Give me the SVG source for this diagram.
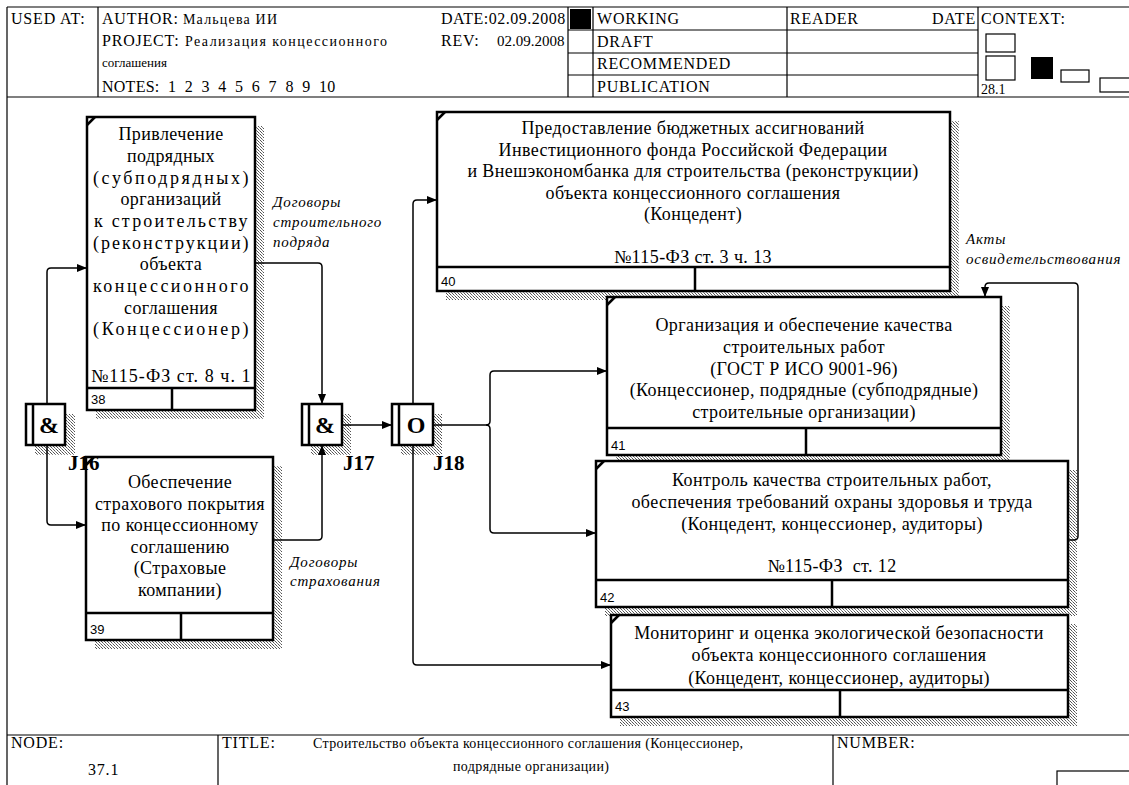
<svg xmlns="http://www.w3.org/2000/svg" width="1129" height="785" viewBox="0 0 1129 785">
<defs>
<pattern id="hatch" width="3" height="3" patternUnits="userSpaceOnUse">
<rect width="3" height="3" fill="#fff"/>
<rect x="0" y="0" width="1" height="1" fill="#555"/>
<rect x="1" y="1" width="1" height="1" fill="#888"/>
<rect x="2" y="2" width="1" height="1" fill="#555"/>
</pattern>
<marker id="arr" markerWidth="10" markerHeight="8" refX="10" refY="4" orient="auto" markerUnits="userSpaceOnUse">
<path d="M0,0 L10,4 L0,8 z" fill="#000"/>
</marker>
</defs>
<style>
.frame{stroke:#000;stroke-width:1.2;fill:none}
.hdr{font-family:"Liberation Serif",serif;font-size:16px;letter-spacing:0.8px;fill:#000}
.hdrs{font-family:"Liberation Serif",serif;font-size:14px;fill:#000}
.box{fill:#fff;stroke:#000;stroke-width:2.5}
.ln{stroke:#000;stroke-width:2.5}
.sh{fill:url(#hatch)}
.t{font-family:"Liberation Serif",serif;font-size:18px;letter-spacing:0.4px;fill:#000;text-anchor:middle}
.num{font-family:"Liberation Sans",sans-serif;font-size:13px;fill:#000}
.lab{font-family:"Liberation Serif",serif;font-size:15px;letter-spacing:0.8px;font-style:italic;fill:#000}
.jt{font-family:"Liberation Serif",serif;font-size:24px;font-weight:bold;fill:#000;text-anchor:middle}
.jl{font-family:"Liberation Serif",serif;font-size:21px;font-weight:bold;fill:#000}
.c{fill:none;stroke:#000;stroke-width:1.5}
</style>
<rect width="1129" height="785" fill="#fff"/>

<g id="frame">
<path class="frame" d="M7,7 H1129 M7,7 V785 M7,97 H1129 M98,7 V97 M568,7 V97 M593,7 V97 M787,7 V97 M978,7 V97 M568,30 H978 M568,53 H978 M568,75 H978 M7,735 H1129 M218,735 V785 M833,735 V785"/>
<rect x="570" y="9" width="21" height="20" fill="#000"/>
<text class="hdr" x="11" y="24">USED AT:</text>
<text class="hdr" x="102" y="24">AUTHOR:</text>
<text class="hdrs" x="183" y="24" textLength="94" lengthAdjust="spacing">Мальцева ИИ</text>
<text class="hdr" x="102" y="46">PROJECT:</text>
<text class="hdrs" x="185" y="46" textLength="202" lengthAdjust="spacing">Реализация концессионного</text>
<text class="hdrs" x="102" y="67" style="font-size:13px" textLength="65" lengthAdjust="spacing">соглашения</text>
<text class="hdr" x="102" y="92" xml:space="preserve" textLength="234" lengthAdjust="spacing">NOTES:  1  2  3  4  5  6  7  8  9  10</text>
<text class="hdr" x="441" y="24" textLength="125" lengthAdjust="spacing">DATE:02.09.2008</text>
<text class="hdr" x="441" y="46">REV:</text>
<text class="hdr" x="497" y="46" style="font-size:15px;letter-spacing:0">02.09.2008</text>
<text class="hdr" x="597" y="24">WORKING</text>
<text class="hdr" x="597" y="47">DRAFT</text>
<text class="hdr" x="597" y="69">RECOMMENDED</text>
<text class="hdr" x="597" y="92">PUBLICATION</text>
<text class="hdr" x="790" y="24">READER</text>
<text class="hdr" x="976" y="24" text-anchor="end">DATE</text>
<text class="hdr" x="981" y="24">CONTEXT:</text>
<rect x="986" y="34" width="29" height="18" class="frame"/>
<rect x="986" y="56" width="29" height="24" class="frame"/>
<rect x="1031" y="57" width="22" height="22" fill="#000"/>
<rect x="1061" y="70" width="28" height="12" class="frame"/>
<rect x="1100" y="78" width="30" height="14" class="frame"/>
<text class="hdrs" x="981" y="94">28.1</text>
<text class="hdr" x="11" y="748">NODE:</text>
<text class="hdr" x="88" y="775">37.1</text>
<text class="hdr" x="222" y="748">TITLE:</text>
<text class="hdrs" x="313" y="748" textLength="430" lengthAdjust="spacing">Строительство объекта концессионного соглашения (Концессионер,</text>
<text class="hdrs" x="453" y="771" textLength="156" lengthAdjust="spacing">подрядные организации)</text>
<text class="hdr" x="837" y="748">NUMBER:</text>
<rect x="1057" y="771" width="80" height="20" class="frame"/>
</g>

<g id="shadows">
<rect class="sh" x="96" y="126" width="168" height="293"/>
<rect class="sh" x="95" y="466" width="187" height="183"/>
<rect class="sh" x="446" y="121" width="513" height="179"/>
<rect class="sh" x="616" y="306" width="394" height="158"/>
<rect class="sh" x="605" y="470" width="472" height="146"/>
<rect class="sh" x="620" y="624" width="457" height="102"/>
<rect class="sh" x="35" y="414" width="40" height="41"/>
<rect class="sh" x="311" y="414" width="40" height="41"/>
<rect class="sh" x="401" y="414" width="41" height="41"/>
</g>

<g id="connectors">
<path class="c" marker-end="url(#arr)" d="M47,404 V272 Q47,268 51,268 H87"/>
<path class="c" marker-end="url(#arr)" d="M47,445 V521 Q47,525 51,525 H86"/>
<path class="c" marker-end="url(#arr)" d="M255,263 H318 Q322,263 322,267 V404"/>
<path class="c" marker-end="url(#arr)" d="M273,540 H318 Q322,540 322,536 V445"/>
<path class="c" marker-end="url(#arr)" d="M342,425 H392"/>
<path class="c" marker-end="url(#arr)" d="M413,404 V204 Q413,200 417,200 H437"/>
<path class="c" marker-end="url(#arr)" d="M433,425 H486 Q490,425 490,421 V375 Q490,371 494,371 H607"/>
<path class="c" marker-end="url(#arr)" d="M486,425 Q490,425 490,429 V529 Q490,533 494,533 H596"/>
<path class="c" marker-end="url(#arr)" d="M413,445 V661 Q413,665 417,665 H611"/>
<path class="c" marker-end="url(#arr)" d="M1068,540 H1074 Q1078,540 1078,536 V287 Q1078,283 1074,283 H989 Q985,283 985,287 V297"/>
<text class="lab" x="273" y="207">Договоры</text>
<text class="lab" x="273" y="227">строительного</text>
<text class="lab" x="273" y="247">подряда</text>
<text class="lab" x="290" y="567">Договоры</text>
<text class="lab" x="290" y="586">страхования</text>
<text class="lab" x="966" y="244">Акты</text>
<text class="lab" x="966" y="264">освидетельствования</text>
</g>

<g id="node38">
<rect class="box" x="87" y="117" width="168" height="293"/>
<path class="ln" d="M87,388 H255 M172,388 V410 M87,125 L95,117"/>
<text class="t" x="171" y="140">Привлечение</text>
<text class="t" x="171" y="162">подрядных</text>
<text class="t" x="171" y="184" textLength="156" lengthAdjust="spacing">(субподрядных)</text>
<text class="t" x="171" y="205">организаций</text>
<text class="t" x="171" y="227" textLength="154" lengthAdjust="spacing">к строительству</text>
<text class="t" x="171" y="249" textLength="156" lengthAdjust="spacing">(реконструкции)</text>
<text class="t" x="171" y="270">объекта</text>
<text class="t" x="171" y="292" textLength="156" lengthAdjust="spacing">концессионного</text>
<text class="t" x="171" y="314">соглашения</text>
<text class="t" x="171" y="335" textLength="156" lengthAdjust="spacing">(Концессионер)</text>
<text class="t" x="171" y="382" textLength="160" lengthAdjust="spacing">№115-ФЗ ст. 8 ч. 1</text>
<text class="num" x="91" y="404">38</text>
</g>

<g id="node39">
<rect class="box" x="86" y="457" width="187" height="183"/>
<path class="ln" d="M86,613 H273 M181,613 V640 M86,465 L94,457"/>
<text class="t" x="180" y="488">Обеспечение</text>
<text class="t" x="180" y="510">страхового покрытия</text>
<text class="t" x="180" y="531">по концессионному</text>
<text class="t" x="180" y="553">соглашению</text>
<text class="t" x="180" y="574">(Страховые</text>
<text class="t" x="180" y="596">компании)</text>
<text class="num" x="90" y="634">39</text>
</g>

<g id="node40">
<rect class="box" x="437" y="112" width="513" height="179"/>
<path class="ln" d="M437,267 H950 M695,267 V291 M437,120 L445,112"/>
<text class="t" x="693" y="134">Предоставление бюджетных ассигнований</text>
<text class="t" x="693" y="156">Инвестиционного фонда Российской Федерации</text>
<text class="t" x="693" y="177">и Внешэкономбанка для строительства (реконструкции)</text>
<text class="t" x="693" y="199">объекта концессионного соглашения</text>
<text class="t" x="693" y="220">(Концедент)</text>
<text class="t" x="693" y="263">№115-ФЗ ст. 3 ч. 13</text>
<text class="num" x="441" y="286">40</text>
</g>

<g id="node41">
<rect class="box" x="607" y="297" width="394" height="158"/>
<path class="ln" d="M607,428 H1001 M806,428 V455 M607,305 L615,297"/>
<text class="t" x="804" y="331">Организация и обеспечение качества</text>
<text class="t" x="804" y="353">строительных работ</text>
<text class="t" x="804" y="375">(ГОСТ Р ИСО 9001-96)</text>
<text class="t" x="804" y="396">(Концессионер, подрядные (субподрядные)</text>
<text class="t" x="804" y="418">строительные организации)</text>
<text class="num" x="611" y="450">41</text>
</g>

<g id="node42">
<rect class="box" x="596" y="461" width="472" height="146"/>
<path class="ln" d="M596,580 H1068 M832,580 V607 M596,469 L604,461"/>
<text class="t" x="832" y="486">Контроль качества строительных работ,</text>
<text class="t" x="832" y="508">обеспечения требований охраны здоровья и труда</text>
<text class="t" x="832" y="530">(Концедент, концессионер, аудиторы)</text>
<text class="t" x="832" y="572" xml:space="preserve">№115-ФЗ  ст. 12</text>
<text class="num" x="600" y="602">42</text>
</g>

<g id="node43">
<rect class="box" x="611" y="615" width="457" height="102"/>
<path class="ln" d="M611,690 H1068 M840,690 V717 M611,623 L619,615"/>
<text class="t" x="839" y="639">Мониторинг и оценка экологической безопасности</text>
<text class="t" x="839" y="661">объекта концессионного соглашения</text>
<text class="t" x="839" y="684">(Концедент, концессионер, аудиторы)</text>
<text class="num" x="615" y="711">43</text>
</g>

<g id="J16">
<rect class="box" x="26" y="404" width="39" height="41"/>
<path class="ln" d="M33,404 V445"/>
<text class="jt" x="49" y="433">&amp;</text>
<text class="jl" x="68" y="470">J16</text>
</g>
<g id="J17">
<rect class="box" x="302" y="404" width="40" height="41"/>
<path class="ln" d="M309,404 V445"/>
<text class="jt" x="325" y="433">&amp;</text>
<text class="jl" x="343" y="470">J17</text>
</g>
<g id="J18">
<rect class="box" x="392" y="404" width="41" height="41"/>
<path class="ln" d="M399,404 V445"/>
<text class="jt" x="416" y="433">O</text>
<text class="jl" x="433" y="470">J18</text>
</g>
</svg>
